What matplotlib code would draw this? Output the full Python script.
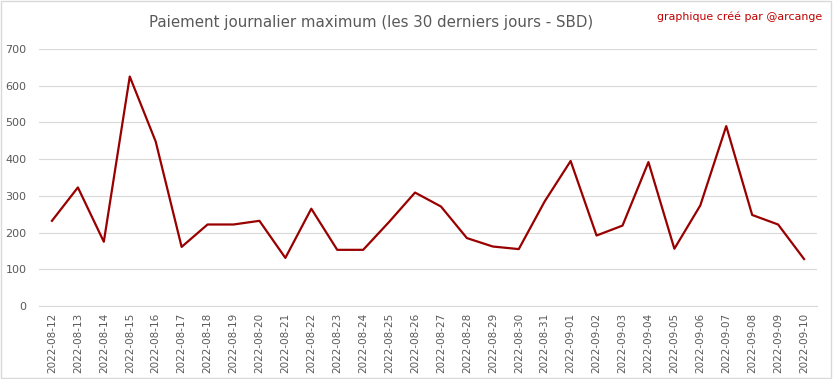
import matplotlib
matplotlib.use("Agg")
import matplotlib.pyplot as plt
from matplotlib.patches import Rectangle

# daily max payout, last 30 days
dates = ["2022-08-12", "2022-08-13", "2022-08-14", "2022-08-15", "2022-08-16",
         "2022-08-17", "2022-08-18", "2022-08-19", "2022-08-20", "2022-08-21",
         "2022-08-22", "2022-08-23", "2022-08-24", "2022-08-25", "2022-08-26",
         "2022-08-27", "2022-08-28", "2022-08-29", "2022-08-30", "2022-08-31",
         "2022-09-01", "2022-09-02", "2022-09-03", "2022-09-04", "2022-09-05",
         "2022-09-06", "2022-09-07", "2022-09-08", "2022-09-09", "2022-09-10"]
payout = [232, 323, 175, 625, 448, 161, 222, 222, 232, 131,
          265, 153, 153, 229, 309, 271, 185, 162, 155, 285,
          395, 192, 219, 392, 156, 274, 490, 248, 222, 128]
yticks = [0, 100, 200, 300, 400, 500, 600, 700]

plt.rcParams['font.family'] = ['DejaVu Sans']

fig = plt.figure(figsize=(8.33, 3.79), dpi=100)
ax = fig.add_axes([0.0468, 0.1926, 0.9340, 0.6781])

x = range(len(dates))
ax.plot(x, payout, color='#990000', linewidth=1.6)

ax.set_xlim(-0.5, len(dates) - 0.5)
ax.set_ylim(0, 700)
ax.set_yticks(yticks)
ax.set_xticks(list(x))
ax.set_xticklabels(dates, rotation=90, fontsize=7.5, color='#595959')
ax.tick_params(axis='y', labelsize=8, colors='#595959', length=0, pad=9)
ax.tick_params(axis='x', length=0, pad=5)
ax.grid(axis='y', color='#D9D9D9', linewidth=0.8)
ax.set_axisbelow(True)
for s in ['top', 'right', 'left']:
    ax.spines[s].set_visible(False)
ax.spines['bottom'].set_color('#D9D9D9')

fig.text(0.445, 0.94, "Paiement journalier maximum (les 30 derniers jours - SBD)",
         ha='center', va='center', fontsize=10.8, color='#595959')
fig.text(0.987, 0.955, "graphique créé par @arcange",
         ha='right', va='center', fontsize=7.9, color='#C00000')

# chart border
fig.patches.append(Rectangle((0.001, 0.002), 0.997, 0.995, transform=fig.transFigure,
                             fill=False, edgecolor='#D9D9D9', linewidth=1))

fig.savefig("out.png", dpi=100)
